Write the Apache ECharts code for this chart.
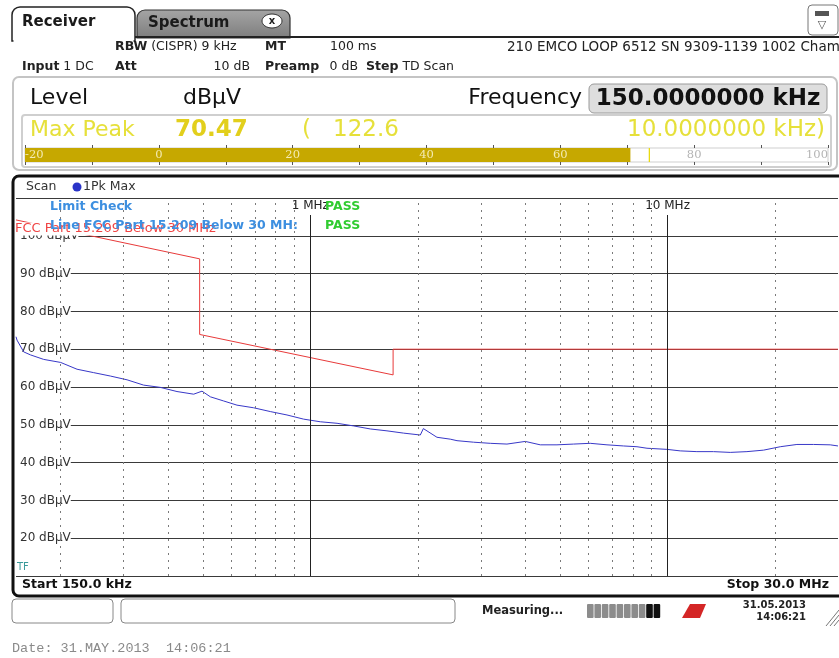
<!DOCTYPE html>
<html><head><meta charset="utf-8">
<script src="https://cdn.jsdelivr.net/npm/echarts@6/dist/echarts.min.js"></script>
<style>html,body{margin:0;padding:0;background:#fff}#c{width:839px;height:658px}</style>
</head><body><div id="c"></div>
<script>
// ---- data ----
const traceFreqMHz = [0.150,0.151,0.1576,0.1646,0.1793,0.200,0.2223,0.2474,0.2756,0.3069,0.3415,0.3803,0.4234,0.4715,0.4975,0.5251,0.5722,0.6233,0.6941,0.7727,0.8604,0.9577,1.0666,1.188,1.322,1.472,1.639,1.824,2.032,2.072,2.262,2.465,2.574,2.864,3.190,3.552,3.997,4.403,4.903,5.457,6.076,6.767,7.532,8.211,8.758,9.96,10.85,12.08,13.45,14.98,16.68,18.57,20.68,23.02,25.63,28.53,30.0];
const traceLevel   = [73.3,72.4,69.3,68.5,67.3,66.5,64.7,63.8,62.9,61.9,60.5,59.9,58.8,58.1,58.9,57.4,56.3,55.2,54.5,53.5,52.6,51.5,50.8,50.4,49.7,48.9,48.4,47.8,47.3,49.0,46.7,46.2,45.8,45.4,45.1,44.9,45.6,44.7,44.7,44.9,45.1,44.7,44.4,44.2,43.8,43.5,43.1,42.9,42.9,42.7,42.9,43.3,44.2,44.8,44.8,44.7,44.4];
const limitFreqMHz = [0.15,0.49,0.49,1.705,1.705,30];
const limitLevel   = [104.2,93.9,73.9,63.2,70,70];
const minorGridFreqMHz = [0.2,0.3,0.4,0.5,0.6,0.7,0.8,0.9,2,3,4,5,6,7,8,9,20];
const majorGridFreqMHz = [1,10];
const majorGridLabels  = ['1 MHz','10 MHz'];
const levelMin = 10, levelMax = 110, levelStep = 10;
const meterMin = -20, meterMax = 100, meterStep = 10;
const meterPeak = 70.47, meterHold = 73.3;

// ---- helpers ----
const F = 'DejaVu Sans';
function T(x, y, text, o) {
  o = o || {};
  const el = { type: 'text', x: x, y: y, z: o.z || 50, zlevel: o.zlevel || 0, silent: true,
    style: { text: text, fontSize: o.size || 12.5, fontFamily: o.family || F,
      fontWeight: o.weight || 'normal', fill: o.color || '#222',
      align: o.align || 'left', textAlign: o.align || 'left',
      verticalAlign: 'middle', textVerticalAlign: 'middle', rich: o.rich } };
  if (o.bg) { el.style.backgroundColor = o.bg; el.style.padding = o.pad || 0; }
  return el;
}
function R(x, y, w, h, o) {
  o = o || {};
  return { type: 'rect', z: o.z == null ? 1 : o.z, silent: true,
    shape: { x: x, y: y, width: w, height: h, r: o.r || 0 },
    style: { fill: o.fill || 'none', stroke: o.stroke || null, lineWidth: o.lw || 1 } };
}
function L(x1, y1, x2, y2, o) {
  o = o || {};
  return { type: 'line', z: o.z || 5, silent: true, shape: { x1, y1, x2, y2 },
    style: { stroke: o.color || '#222', lineWidth: o.lw || 1 } };
}
const boldRich = { b: { fontWeight: 'bold', fontSize: 12.5, fontFamily: F, fill: '#222' } };

const graphics = [
  // tabs
  R(137, 10, 153, 28, { r: [8, 8, 0, 0], stroke: '#333', lw: 1.2,
    fill: { type: 'linear', x: 0, y: 0, x2: 0, y2: 1, colorStops: [{ offset: 0, color: '#a5a5a5' }, { offset: 1, color: '#7d7d7d' }] } }),
  T(148, 23, 'Spectrum', { size: 15, weight: 'bold', color: '#1a1a1a' }),
  { type: 'ellipse', z: 20, silent: true, shape: { cx: 272, cy: 21, rx: 10, ry: 7 }, style: { fill: '#fff', stroke: '#333', lineWidth: 1 } },
  T(272, 21, 'x', { size: 10, weight: 'bold', align: 'center', z: 21 }),
  L(135, 37, 839, 37, { lw: 2 }),
  R(12, 7, 123, 34, { r: [8, 8, 0, 0], stroke: '#222', lw: 1.5, fill: '#fff', z: 8 }),
  R(13.5, 36, 120, 8, { fill: '#fff', z: 9 }),
  T(22, 22, 'Receiver', { size: 15, weight: 'bold', color: '#1a1a1a' }),
  R(808, 5, 30, 30, { r: 4, stroke: '#777', fill: '#fff' }),
  R(815, 11, 14, 5, { fill: '#555', z: 6 }),
  T(822, 25, '▽', { size: 11, align: 'center', color: '#555' }),
  // info rows
  T(115, 47, '{b|RBW} (CISPR) 9 kHz', { rich: boldRich }),
  T(265, 47, '{b|MT}', { rich: boldRich }),
  T(330, 47, '100 ms'),
  T(507, 47, '210 EMCO LOOP 6512 SN 9309-1139 1002 Cham', { size: 13.5 }),
  T(22, 67, '{b|Input} 1 DC', { rich: boldRich }),
  T(115, 67, '{b|Att}', { rich: boldRich }),
  T(250, 67, '10 dB', { align: 'right' }),
  T(265, 67, '{b|Preamp}', { rich: boldRich }),
  T(358, 67, '0 dB', { align: 'right' }),
  T(366, 67, '{b|Step} TD Scan', { rich: boldRich }),
  // level panel
  R(13, 77, 824, 93, { r: 6, stroke: '#c4c4c4', lw: 2 }),
  T(30, 98, 'Level', { size: 22, color: '#111' }),
  T(183, 98, 'dBµV', { size: 22, color: '#111' }),
  T(582, 98, 'Frequency', { size: 22, color: '#111', align: 'right' }),
  R(589, 84, 238, 29, { r: 5, fill: '#dedede', stroke: '#9a9a9a' }),
  T(708, 99, '150.0000000 kHz', { size: 23, weight: 'bold', align: 'center', color: '#111' }),
  R(22, 115, 809, 52, { r: 3, stroke: '#cfcfcf', lw: 2 }),
  T(30, 130, 'Max Peak', { size: 22, color: '#e6e03a' }),
  T(175, 130, '70.47', { size: 23, weight: 'bold', color: '#e2cf1c' }),
  T(302, 130, '(', { size: 23, color: '#e6e03a' }),
  T(333, 130, '122.6', { size: 23, color: '#e6e03a' }),
  T(825, 130, '10.0000000 kHz)', { size: 23, color: '#e6e03a', align: 'right' }),
  R(25, 148, 803, 14, { stroke: '#cfcfcf', z: 0 }),
  // chart frame
  R(13, 176, 840, 420, { r: 6, stroke: '#111', lw: 3 }),
  T(26, 187, 'Scan', { color: '#333' }),
  { type: 'circle', z: 20, silent: true, shape: { cx: 77, cy: 187, r: 4.5 }, style: { fill: '#2a34c8' } },
  T(83, 187, '1Pk Max', { color: '#333' }),
  T(15, 229, 'FCC Part 15.209 Below 30 MHz', { size: 13, color: '#f04444', zlevel: 1, z: 1, bg: '#fff', pad: [0, 1, 0, 0] }),
  T(50, 207, 'Limit Check', { weight: 'bold', color: '#3d8fe0', zlevel: 1, z: 5 }),
  T(325, 207, 'PASS', { weight: 'bold', color: '#30cc30', zlevel: 1, z: 5 }),
  T(50, 226, 'Line FCC Part 15.209 Below 30 MH:', { weight: 'bold', color: '#3d8fe0', zlevel: 1, z: 5 }),
  T(325, 226, 'PASS', { weight: 'bold', color: '#30cc30', zlevel: 1, z: 5 }),
  T(17, 567, 'TF', { size: 10, color: '#3a9a9a' }),
  T(22, 585, 'Start 150.0 kHz', { weight: 'bold', color: '#111' }),
  T(829, 585, 'Stop 30.0 MHz', { weight: 'bold', color: '#111', align: 'right' }),
  // status bar
  R(12, 599, 101, 24, { r: 4, stroke: '#888', fill: '#fff' }),
  R(121, 599, 334, 24, { r: 4, stroke: '#888', fill: '#fff' }),
  T(482, 611, 'Measuring...', { size: 11.5, weight: 'bold', color: '#222' }),
  { type: 'polygon', z: 5, silent: true, shape: { points: [[682, 618], [690, 604], [706, 604], [700, 618]] }, style: { fill: '#d42626' } },
  T(806, 605, '31.05.2013', { size: 10, weight: 'bold', align: 'right', color: '#222' }),
  T(806, 617, '14:06:21', { size: 10, weight: 'bold', align: 'right', color: '#222' }),
  L(826, 626, 839, 610, { color: '#777' }), L(830, 626, 839, 615, { color: '#777' }), L(834, 626, 839, 620, { color: '#777' }),
  T(12, 648, 'Date: 31.MAY.2013  14:06:21', { size: 13.5, family: 'Liberation Mono', color: '#8a8a8a' })
];
for (let i = 0; i < 10; i++) {
  graphics.push(R(587 + i * 7.4, 604, 6.6, 14, { fill: i < 8 ? '#8c8c8c' : '#111', r: 1 }));
}

const minorLines = minorGridFreqMHz.map(f => ({ xAxis: f }));
const majorLines = majorGridFreqMHz.map((f, i) => [
  { coord: [f, 105.5], lineStyle: { type: 'solid', color: '#222', width: 1 },
    label: { show: true, position: 'start', formatter: majorGridLabels[i], color: '#222', fontSize: 12, fontFamily: F, distance: 3 } },
  { coord: [f, levelMin] }
]);

const option = {
  animation: false,
  backgroundColor: '#fff',
  graphic: graphics,
  grid: [
    { left: 16, right: 1, top: 198, height: 378, outerBoundsMode: 'none', containLabel: false },
    { left: 25, right: 11, top: 148, height: 14, outerBoundsMode: 'none', containLabel: false }
  ],
  xAxis: [
    { gridIndex: 0, type: 'log', logBase: 10, min: 0.15, max: 30,
      axisLine: { show: false }, axisTick: { show: false }, axisLabel: { show: false }, splitLine: { show: false } },
    { gridIndex: 1, type: 'value', min: meterMin, max: meterMax, interval: meterStep, position: 'bottom', z: 5,
      axisLine: { show: false }, splitLine: { show: false },
      axisTick: { show: true, length: 3, lineStyle: { color: '#555' } },
      axisLabel: { inside: true, margin: 1, fontSize: 11.5, fontFamily: 'DejaVu Serif',
        alignMinLabel: 'left', alignMaxLabel: 'right', hideOverlap: false,
        formatter: v => (v % 20 === 0 ? String(v) : ''),
        color: v => (v <= 60 ? '#f4ebb2' : '#b4b4b4') } },
    { gridIndex: 1, type: 'value', min: meterMin, max: meterMax, interval: meterStep, position: 'top', z: 5,
      axisLine: { show: false }, splitLine: { show: false }, axisLabel: { show: false },
      axisTick: { show: true, length: 3, lineStyle: { color: '#555' } } }
  ],
  yAxis: [
    { gridIndex: 0, type: 'value', min: levelMin, max: levelMax, interval: levelStep,
      axisLine: { show: false }, axisTick: { show: false },
      splitLine: { show: true, lineStyle: { color: '#3a3a3a', width: 1 } },
      axisLabel: { inside: true, margin: 0, showMinLabel: false, showMaxLabel: false,
        formatter: v => v + ' dBµV', color: '#333', fontSize: 12, fontFamily: F,
        backgroundColor: '#fff', padding: [1, 0, 1, 4] } },
    { gridIndex: 1, type: 'value', min: 0, max: 1, show: false }
  ],
  series: [
    { name: 'limit', type: 'line', xAxisIndex: 0, yAxisIndex: 0, z: 2,
      data: limitFreqMHz.map((f, i) => [f, limitLevel[i]]),
      showSymbol: false, lineStyle: { color: '#e83a3a', width: 1 }, itemStyle: { color: '#e83a3a' },
      markLine: { silent: true, symbol: ['none', 'none'], animation: false,
        label: { show: false },
        lineStyle: { type: [2, 5], color: '#7a7a7a', width: 1 },
        data: minorLines.concat(majorLines) } },
    { name: '1Pk Max', type: 'line', xAxisIndex: 0, yAxisIndex: 0, z: 3,
      data: traceFreqMHz.map((f, i) => [f, traceLevel[i]]),
      showSymbol: false, lineStyle: { color: '#3838c8', width: 1 }, itemStyle: { color: '#3838c8' } },
    { name: 'meter', type: 'custom', xAxisIndex: 1, yAxisIndex: 1, z: 1,
      data: [[meterMin, meterPeak, meterHold]],
      renderItem: function (params, api) {
        const a = api.coord([api.value(0), 1]);
        const b = api.coord([api.value(1), 0]);
        const h1 = api.coord([api.value(2), 1]);
        const h0 = api.coord([api.value(2), 0]);
        return { type: 'group', children: [
          { type: 'rect', shape: { x: a[0], y: a[1], width: b[0] - a[0], height: b[1] - a[1] }, style: { fill: '#c6a800' } },
          { type: 'line', shape: { x1: h1[0], y1: h1[1], x2: h0[0], y2: h0[1] }, style: { stroke: '#e8d800', lineWidth: 1.2 } }
        ] };
      } }
  ]
};
const chart = echarts.init(document.getElementById('c'), null, { renderer: 'canvas' });
chart.setOption(option);
</script></body></html>
